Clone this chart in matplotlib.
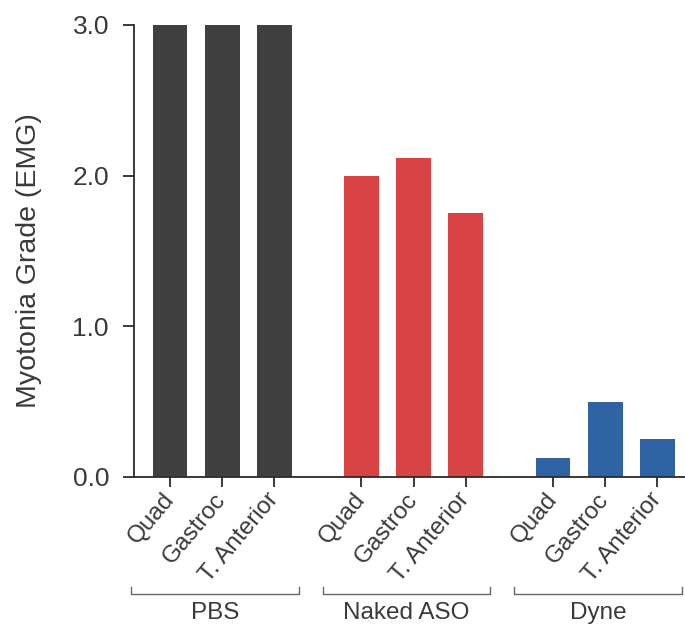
import numpy as np
import matplotlib.pyplot as plt

plt.rcParams["font.family"] = ["Liberation Sans", "DejaVu Sans"]

# data
GROUPS   = ["PBS", "Naked ASO", "Dyne"]
MUSCLES  = ["Quad", "Gastroc", "T. Anterior"]
PBS      = [3.0, 3.0, 3.0]
NAKED    = [2.0, 2.12, 1.75]
DYNE     = [0.125, 0.5, 0.25]
Y_TICKS  = [0.0, 1.0, 2.0, 3.0]

COLORS   = ["#404040", "#d94343", "#2f63a3"]
AXIS_COL = "#2b2b2b"
TXT_COL  = "#3a3a3a"

GROUP_STEP = 3.67
BAR_W      = 0.67

fig = plt.figure(figsize=(6.85, 6.28), dpi=100)
ax = fig.add_axes([134 / 685, 1 - 477 / 628, 1 - 134 / 685, 452 / 628])

series = [PBS, NAKED, DYNE]
tick_pos, tick_lab = [], []
for g, (vals, col) in enumerate(zip(series, COLORS)):
    x = g * GROUP_STEP + np.arange(len(vals))
    ax.bar(x, vals, width=BAR_W, color=col, zorder=2)
    tick_pos.extend(x)
    tick_lab.extend(MUSCLES)

    # group bracket under the rotated labels
    trans = ax.get_xaxis_transform()
    x0, x1 = x[0] - 0.74, x[-1] + 0.47
    ax.plot([x0, x0, x1, x1], [-0.243, -0.259, -0.259, -0.243],
            transform=trans, clip_on=False, color="#666666", lw=1.0)
    ax.text((x0 + x1) / 2, -0.300, GROUPS[g], transform=trans,
            ha="center", va="center", fontsize=17.5, color=TXT_COL)

ax.set_xlim(-0.69, 9.87)
ax.set_ylim(0, 3.0)
ax.set_yticks(Y_TICKS)
ax.set_yticklabels([f"{v:.1f}" for v in Y_TICKS])
ax.set_xticks(tick_pos)
ax.set_xticklabels(tick_lab, rotation=50, ha="right", va="center",
                   rotation_mode="anchor")

for side in ("top", "right"):
    ax.spines[side].set_visible(False)
for side in ("left", "bottom"):
    ax.spines[side].set_color(AXIS_COL)
    ax.spines[side].set_linewidth(1.3)

ax.tick_params(axis="y", length=8, width=1.3, color=AXIS_COL, pad=10,
               labelsize=19, labelcolor=TXT_COL)
ax.tick_params(axis="x", length=7.5, width=1.3, color=AXIS_COL, pad=6,
               labelsize=17.5, labelcolor=TXT_COL)

ax.set_ylabel("Myotonia Grade (EMG)", fontsize=20.5, color=TXT_COL)
ax.yaxis.set_label_coords(-0.167, 0.478)

fig.savefig("out.png", dpi=100)
